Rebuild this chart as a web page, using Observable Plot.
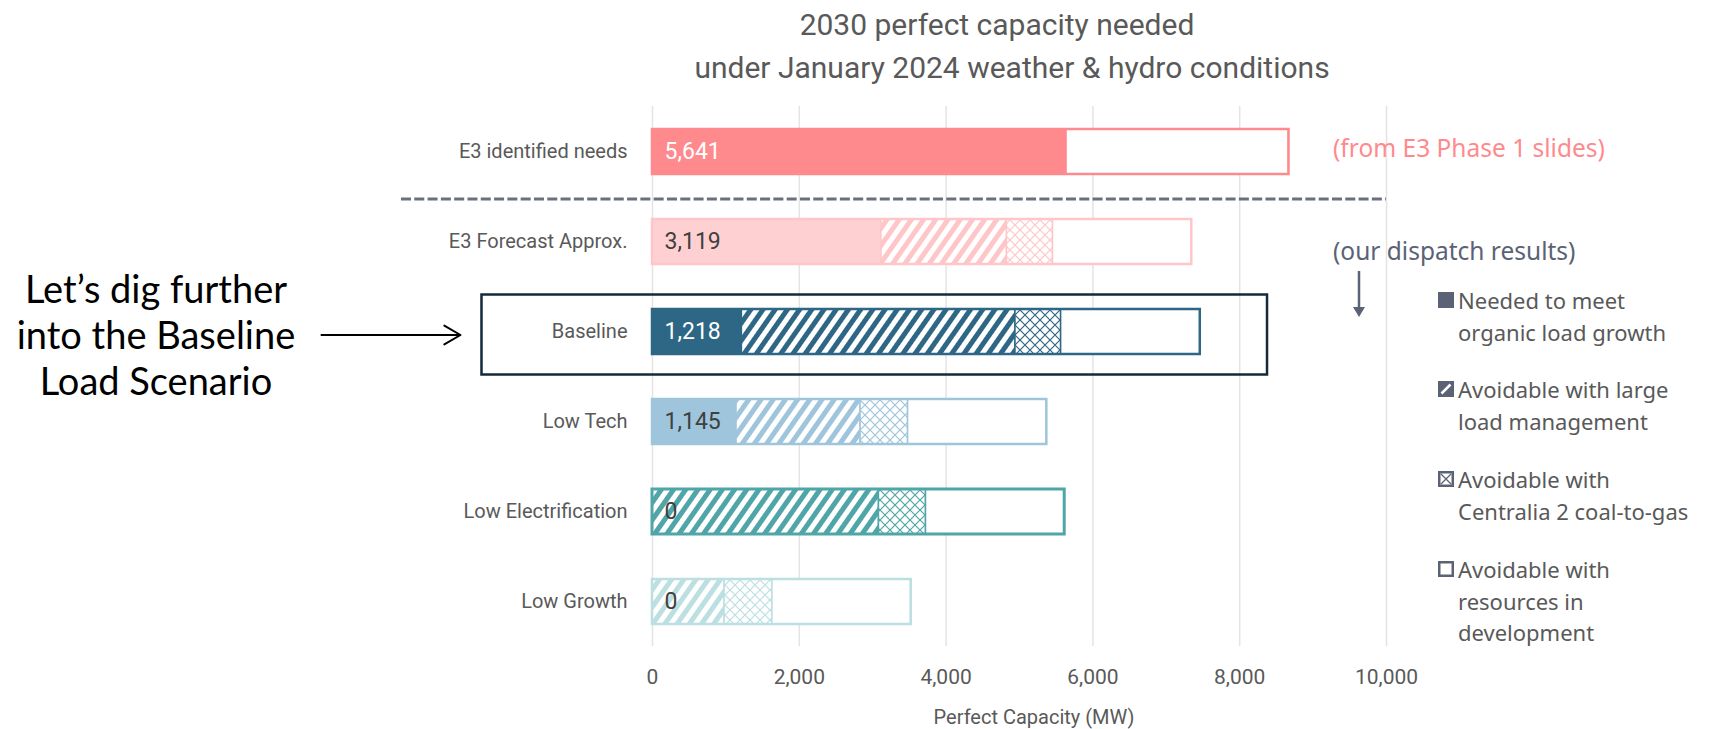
<!DOCTYPE html>
<html><head><meta charset="utf-8">
<script src="https://cdn.jsdelivr.net/npm/d3@7"></script>
<script src="https://cdn.jsdelivr.net/npm/@observablehq/plot@0.6"></script>
<style>
body{margin:0;background:#fff;}
#wrap{position:relative;width:1716px;height:729px;overflow:hidden;font-family:Roboto,sans-serif;}
.ov{position:absolute;white-space:nowrap;line-height:1;}
.c{transform:translate(-50%,-50%);}
.l{transform:translate(0,-50%);}
</style></head><body><div id="wrap"></div>
<script>
// ---- data ----
const scenarios = ["E3 identified needs","E3 Forecast Approx.","Baseline","Low Tech","Low Electrification","Low Growth"];
const needed     = [5641, 3119, 1218, 1145, 0, 0];
const largeLoad  = [0, 1710, 3727, 1690, 3085, 982];
const centralia  = [0, 628, 622, 647, 641, 652];
const resources  = [3030, 1890, 1896, 1890, 1890, 1890];
const valueLabels = ["5,641","3,119","1,218","1,145","0","0"];
const components = ["Needed to meet organic load growth","Avoidable with large load management","Avoidable with Centralia 2 coal-to-gas","Avoidable with resources in development"];
const xTicks = [0, 2000, 4000, 6000, 8000, 10000];
const mainColors  = ["#ff8a8e","#ffd0d2","#2e6786","#9fc5dc","#4fa5a7","#c3e2e5"];
const lineColors  = ["#ff8a8e","#ffc6c9","#2e6786","#9fc5dc","#4fa5a7","#bcdfe2"];
const labelColors = ["#ffffff","#404040","#ffffff","#404040","#404040","#404040"];
const borderWidths = [2.5, 2.5, 2.5, 2.5, 3, 2.5];

// ---- tables built from arrays ----
const segs = [];
scenarios.forEach((s, i) => {
  const vals = [needed[i], largeLoad[i], centralia[i], resources[i]];
  const fills = [mainColors[i], `url(#hatch-${i})`, `url(#cross-${i})`, "#ffffff"];
  let acc = 0;
  vals.forEach((v, k) => {
    if (v > 0) segs.push({scenario: s, component: components[k], x1: acc, x2: acc + v, fill: fills[k], stroke: lineColors[i]});
    acc += v;
  });
});
const rows = scenarios.map((s, i) => ({
  scenario: s,
  total: needed[i] + largeLoad[i] + centralia[i] + resources[i],
  stroke: lineColors[i], sw: borderWidths[i],
  label: valueLabels[i], labelColor: labelColors[i]
}));

const chart = Plot.plot({
  width: 1716, height: 729,
  marginLeft: 652, marginRight: 330, marginTop: 106, marginBottom: 83,
  style: {fontFamily: "Roboto, sans-serif", fontSize: "20px", color: "#595959", background: "transparent"},
  x: {domain: [0, 10000]},
  y: {domain: scenarios, paddingInner: 0.5, paddingOuter: 0.25},
  color: {type: "identity"},
  marks: [
    Plot.gridX(xTicks, {stroke: "#e4e4e4", strokeOpacity: 1, strokeWidth: 1.5}),
    Plot.axisX(xTicks, {tickFormat: d3.format(","), tickSize: 0, tickPadding: 23, label: null, fill: "#595959", fontSize: 21}),
    Plot.axisY({tickSize: 0, tickPadding: 25, label: null, fill: "#595959"}),
    Plot.barX(segs, {y: "scenario", x1: "x1", x2: "x2", fill: "fill", stroke: "stroke", strokeWidth: 1.5}),
    Plot.barX(rows, {y: "scenario", x1: 0, x2: "total", fill: "none", stroke: "stroke", strokeWidth: "sw"}),
    Plot.text(rows, {y: "scenario", x: 0, text: "label", fill: "labelColor", textAnchor: "start", dx: 12, fontSize: 23}),
    Plot.ruleY([scenarios[0]], {y: d => d, x1: -3420, x2: 10000, dy: 47, stroke: "#6b7080", strokeWidth: 3, strokeDasharray: "10,3.3"}),
    Plot.barX([scenarios[2]], {y: d => d, x1: -2323, x2: 8379, fill: "none", stroke: "#15293a", strokeWidth: 2.5, insetTop: -14.5, insetBottom: -20.5}),
    Plot.arrow([scenarios[2]], {x1: -4510, x2: -2616, y1: d => d, y2: d => d, dy: 3, stroke: "#000", strokeWidth: 2, headLength: 14, headAngle: 60})
  ]
});

// patterns
const defs = d3.select(chart).insert("defs", ":first-child");
scenarios.forEach((s, i) => {
  const h = defs.append("pattern").attr("id", `hatch-${i}`).attr("patternUnits", "userSpaceOnUse")
    .attr("width", 10).attr("height", 10).attr("patternTransform", "rotate(35)");
  h.append("rect").attr("width", 10).attr("height", 10).attr("fill", "#fff");
  h.append("rect").attr("width", 5).attr("height", 10).attr("fill", lineColors[i]);
  const c = defs.append("pattern").attr("id", `cross-${i}`).attr("patternUnits", "userSpaceOnUse")
    .attr("width", 10).attr("height", 10);
  c.append("rect").attr("width", 10).attr("height", 10).attr("fill", "#fff");
  c.append("path").attr("d", "M0,0L10,10M10,0L0,10").attr("stroke", lineColors[i]).attr("stroke-width", 1.2).attr("fill", "none");
});

const wrap = document.getElementById("wrap");
chart.style.position = "absolute"; chart.style.left = "0"; chart.style.top = "0";
wrap.appendChild(chart);

function addText(txt, left, top, cls, style) {
  const d = document.createElement("div");
  d.className = "ov " + cls;
  d.textContent = txt;
  d.style.left = left + "px"; d.style.top = top + "px";
  Object.assign(d.style, style || {});
  wrap.appendChild(d);
  return d;
}
const titleStyle = {fontFamily: "Roboto", fontSize: "30px", color: "#595959"};
addText("2030 perfect capacity needed", 997, 25, "c", titleStyle);
addText("under January 2024 weather & hydro conditions", 1012, 68, "c", titleStyle);
addText("Perfect Capacity (MW)", 1034, 717, "c", {fontFamily: "Roboto", fontSize: "20px", color: "#595959"});

const annoStyle = {fontFamily: "Lato", fontSize: "38px", color: "#000"};
addText("Let\u2019s dig further", 156, 288, "c", annoStyle);
addText("into the Baseline", 156, 334, "c", annoStyle);
addText("Load Scenario", 156, 380, "c", annoStyle);

const sideStyle = {fontFamily: "Noto Sans", fontSize: "24.5px"};
addText("(from E3 Phase 1 slides)", 1333, 148, "l", Object.assign({color: "#ff8a8e"}, sideStyle));
addText("(our dispatch results)", 1333, 251, "l", Object.assign({color: "#5b6275"}, sideStyle));

const legendStyle = {fontFamily: "Noto Sans", fontSize: "22px", color: "#595959"};
const legendLines = [
  ["Needed to meet", "organic load growth"],
  ["Avoidable with large", "load management"],
  ["Avoidable with", "Centralia 2 coal-to-gas"],
  ["Avoidable with", "resources in", "development"]
];
const legendTops = [300, 389, 479, 569];
legendLines.forEach((lines, k) => {
  lines.forEach((t, j) => addText(t, 1458, legendTops[k] + j * 31.5, "l", legendStyle));
});

// legend icons + down arrow overlay
const ov = d3.select(wrap).append("svg").attr("width", 1716).attr("height", 729)
  .style("position", "absolute").style("left", 0).style("top", 0);
const ic = "#5b6275";
legendTops.forEach((y, k) => {
  const g = ov.append("g").attr("transform", `translate(1438,${y - 8})`);
  if (k === 0) g.append("rect").attr("width", 16).attr("height", 16).attr("fill", ic);
  else if (k === 1) {
    g.append("rect").attr("width", 16).attr("height", 16).attr("fill", ic);
    g.append("path").attr("d", "M3.5,12.5L12.5,3.5").attr("stroke", "#fff").attr("stroke-width", 2.5);
  } else {
    g.append("rect").attr("x", 1.25).attr("y", 1.25).attr("width", 13.5).attr("height", 13.5).attr("fill", "#fff").attr("stroke", ic).attr("stroke-width", 2.5);
    if (k === 2) g.append("path").attr("d", "M3,3L13,13M13,3L3,13").attr("stroke", ic).attr("stroke-width", 1.3);
  }
});
ov.append("line").attr("x1", 1359).attr("x2", 1359).attr("y1", 271).attr("y2", 310).attr("stroke", ic).attr("stroke-width", 2.5);
ov.append("path").attr("d", "M1353,307L1365,307L1359,317Z").attr("fill", ic);
</script></body></html>
